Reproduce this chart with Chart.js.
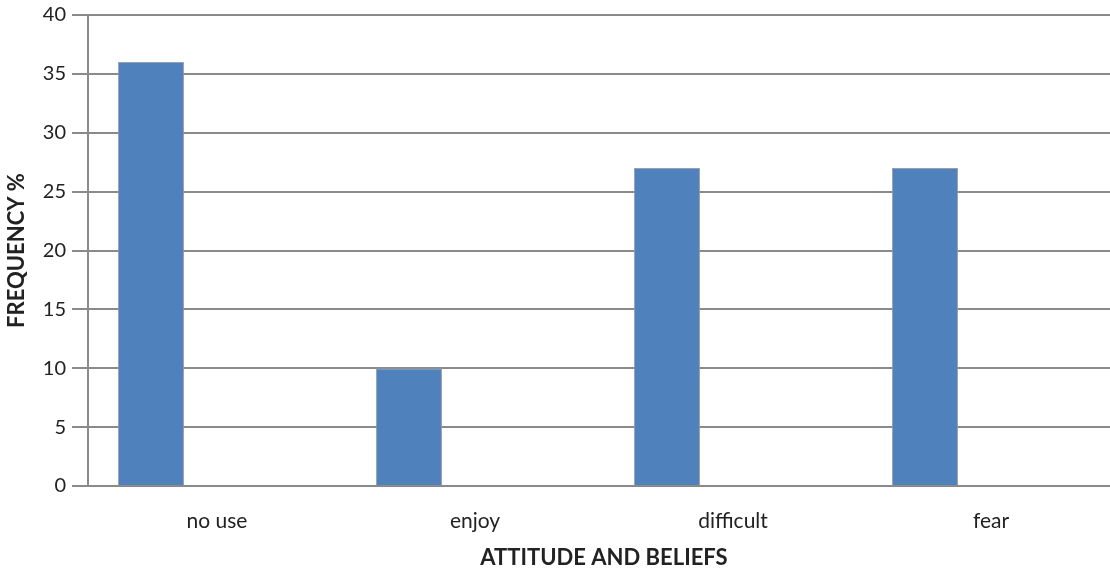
<!DOCTYPE html>
<html>
<head>
<meta charset="utf-8">
<script src="https://cdn.jsdelivr.net/npm/chart.js"></script>
<style>
  html, body { margin: 0; padding: 0; background: #fff; overflow: hidden; }
  #wrap { width: 1110px; height: 571px; overflow: hidden; }
</style>
</head>
<body>
<div id="wrap"><canvas id="chart" width="1122" height="571"></canvas></div>
<script>
// values
const categories = ['no use', 'enjoy', 'difficult', 'fear'];
const frequency = [36, 10, 27, 27];
// the original chart keeps two empty series next to each bar
const emptyA = [null, null, null, null];
const emptyB = [null, null, null, null];
const yTicks = [0, 5, 10, 15, 20, 25, 30, 35, 40];

const gridGray = '#8a8a8a';
const font = "Lato, 'Open Sans', sans-serif";

// plot runs past the right edge of the picture, as in the original
const ctx = document.getElementById('chart').getContext('2d');
new Chart(ctx, {
  type: 'bar',
  data: {
    labels: categories,
    datasets: [
      { label: 'frequency', data: frequency, backgroundColor: '#4f81bd', borderColor: 'rgba(140,150,165,0.9)', borderWidth: 1 },
      { label: 'a', data: emptyA, backgroundColor: '#c0504d' },
      { label: 'b', data: emptyB, backgroundColor: '#9bbb59' }
    ]
  },
  options: {
    responsive: false,
    animation: false,
    layout: { padding: { top: 15, right: 2, left: 0, bottom: 0 } },
    plugins: { legend: { display: false }, tooltip: { enabled: false } },
    datasets: { bar: { categoryPercentage: 0.768, barPercentage: 1 } },
    scales: {
      x: {
        grid: { display: false, drawTicks: false },
        border: { display: true, color: gridGray, width: 2 },
        ticks: { color: '#222', font: { family: font, size: 21 }, padding: 23 },
        title: {
          display: true, text: 'ATTITUDE AND BELIEFS', color: '#222',
          font: { family: font, size: 22, weight: 'bold' }, padding: { top: 8, bottom: 0 }
        },
        afterFit: s => { s.height = 85; }
      },
      y: {
        min: 0, max: 40,
        afterBuildTicks: s => { s.ticks = yTicks.map(v => ({ value: v })); },
        grid: { color: gridGray, lineWidth: 2, tickLength: 16, drawTicks: true },
        border: { display: true, color: gridGray, width: 2 },
        ticks: { color: '#222', font: { family: font, size: 20 }, padding: 6 },
        title: {
          display: true, text: 'FREQUENCY %', color: '#222',
          font: { family: font, size: 22, weight: 'bold' }, padding: { top: 4, bottom: 0 }
        },
        afterFit: s => { s.width = 88; s.paddingTop = 0; s.paddingBottom = 0; }
      }
    }
  }
});
</script>
</body>
</html>
